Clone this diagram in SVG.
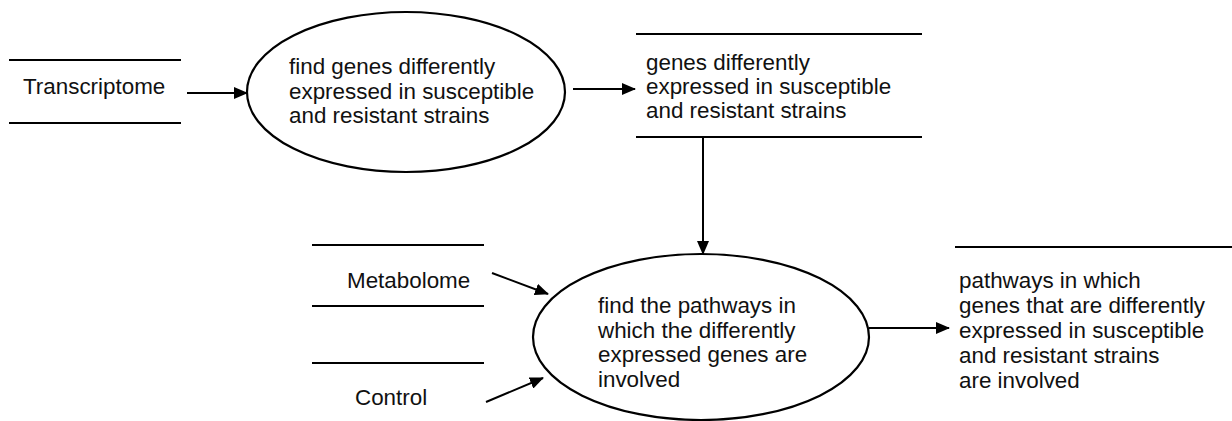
<svg xmlns="http://www.w3.org/2000/svg" width="1232" height="421" viewBox="0 0 1232 421">
<style>
.ln{stroke:#000;stroke-width:2;fill:none}
.el{stroke:#000;stroke-width:2.2;fill:#fff}
.t{font-family:"Liberation Sans",Arial,sans-serif;font-size:22.4px;fill:#111}
</style>
<defs>
<marker id="ah" markerWidth="14" markerHeight="12" refX="13" refY="6" orient="auto" markerUnits="userSpaceOnUse">
<path d="M0,0 L14,6 L0,12 Z" fill="#000"/>
</marker>
</defs>
<rect width="1232" height="421" fill="#fff"/>
<g id="connectors">
<line class="ln" x1="187" y1="93" x2="247" y2="93" marker-end="url(#ah)"/>
<line class="ln" x1="573" y1="89" x2="635" y2="89" marker-end="url(#ah)"/>
<line class="ln" x1="703" y1="137" x2="703" y2="254" marker-end="url(#ah)"/>
<line class="ln" x1="492" y1="273" x2="548" y2="294" marker-end="url(#ah)"/>
<line class="ln" x1="486" y1="402" x2="543" y2="378" marker-end="url(#ah)"/>
<line class="ln" x1="869" y1="328" x2="949" y2="328" marker-end="url(#ah)"/>
</g>
<g id="transcriptome">
<line class="ln" x1="9" y1="60" x2="181" y2="60"/>
<line class="ln" x1="9" y1="123" x2="181" y2="123"/>
<text class="t" x="23" y="94">Transcriptome</text>
</g>
<g id="process1">
<ellipse class="el" cx="406" cy="92" rx="159" ry="80"/>
<text class="t" x="289"><tspan x="289" y="74">find genes differently</tspan><tspan x="289" y="98.5">expressed in susceptible</tspan><tspan x="289" y="123">and resistant strains</tspan></text>
</g>
<g id="store-genes">
<line class="ln" x1="636" y1="34" x2="922" y2="34"/>
<line class="ln" x1="636" y1="137" x2="922" y2="137"/>
<text class="t"><tspan x="646" y="70">genes differently</tspan><tspan x="646" y="94">expressed in susceptible</tspan><tspan x="646" y="118">and resistant strains</tspan></text>
</g>
<g id="metabolome">
<line class="ln" x1="312" y1="245" x2="484" y2="245"/>
<line class="ln" x1="312" y1="306" x2="484" y2="306"/>
<text class="t" x="347" y="288">Metabolome</text>
</g>
<g id="control">
<line class="ln" x1="312" y1="363" x2="484" y2="363"/>
<text class="t" x="355" y="405">Control</text>
</g>
<g id="process2">
<ellipse class="el" cx="701" cy="337" rx="168" ry="83"/>
<text class="t"><tspan x="598" y="313">find the pathways in</tspan><tspan x="598" y="338">which the differently</tspan><tspan x="598" y="362">expressed genes are</tspan><tspan x="598" y="387">involved</tspan></text>
</g>
<g id="store-pathways">
<line class="ln" x1="955" y1="247" x2="1232" y2="247"/>
<text class="t"><tspan x="959" y="288">pathways in which</tspan><tspan x="959" y="313">genes that are differently</tspan><tspan x="959" y="338">expressed in susceptible</tspan><tspan x="959" y="363">and resistant strains</tspan><tspan x="959" y="388">are involved</tspan></text>
</g>
</svg>
